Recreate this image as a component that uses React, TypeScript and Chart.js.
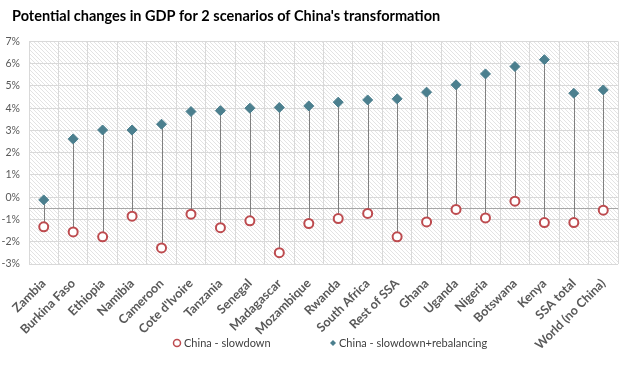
import React, { useEffect, useRef } from "react";
import { Chart, registerables } from "chart.js";

Chart.register(...registerables);

const titleText = "Potential changes in GDP for 2 scenarios of China's transformation";
const categories = [
  "Zambia", "Burkina Faso", "Ethiopia", "Namibia", "Cameroon", "Cote d'Ivoire",
  "Tanzania", "Senegal", "Madagascar", "Mozambique", "Rwanda", "South Africa",
  "Rest of SSA", "Ghana", "Uganda", "Nigeria", "Botswana", "Kenya", "SSA total",
  "World (no China)",
];
const seriesNames = ["China - slowdown", "China - slowdown+rebalancing"];
const slowdown = [
  -1.33, -1.56, -1.78, -0.85, -2.28, -0.76, -1.37, -1.06, -2.49, -1.18,
  -0.96, -0.73, -1.78, -1.11, -0.55, -0.93, -0.18, -1.14, -1.14, -0.58,
];
const rebalancing = [
  -0.12, 2.62, 3.02, 3.02, 3.28, 3.85, 3.89, 4.0, 4.03, 4.1,
  4.27, 4.37, 4.42, 4.72, 5.05, 5.54, 5.87, 6.18, 4.67, 4.82,
];
const yMin = -3;
const yMax = 7;
const axisCross = -0.5;

const RED = "#bd4b4f";
const TEAL = "#4b7f8e";
const FONT = "Lato, 'Open Sans', sans-serif";

function makePattern(): CanvasPattern | string {
  const c = document.createElement("canvas");
  c.width = 4;
  c.height = 4;
  const g = c.getContext("2d");
  if (!g) return "#f2f2f2";
  g.fillStyle = "#ffffff";
  g.fillRect(0, 0, 4, 4);
  g.strokeStyle = "#e3e3e3";
  g.lineWidth = 1;
  g.beginPath();
  g.moveTo(-1, -1);
  g.lineTo(5, 5);
  g.stroke();
  const p = g.createPattern(c, "repeat");
  return p || "#f2f2f2";
}

export default function App() {
  const ref = useRef<HTMLCanvasElement>(null);

  useEffect(() => {
    document.body.style.margin = "0";
    if (!ref.current) return;
    const pattern = makePattern();

    const hatch = {
      id: "hatch",
      afterLayout(chart: any) {
        if (chart.titleBlock) {
          chart.titleBlock.left = 12;
        }
      },
      beforeDraw(chart: any) {
        const { ctx, chartArea } = chart;
        ctx.save();
        ctx.fillStyle = pattern;
        ctx.fillRect(chartArea.left, chartArea.top, chartArea.right - chartArea.left, chartArea.bottom - chartArea.top);
        ctx.restore();
      },
    };

    const dropLines = {
      id: "dropLines",
      beforeDatasetsDraw(chart: any) {
        const { ctx, scales, chartArea } = chart;
        const x = scales.x;
        const y = scales.y;
        ctx.save();
        ctx.strokeStyle = "#a6a6a6";
        ctx.lineWidth = 1;
        const ya = Math.round(y.getPixelForValue(axisCross)) + 0.5;
        ctx.beginPath();
        ctx.moveTo(chartArea.left, ya);
        ctx.lineTo(chartArea.right, ya);
        ctx.stroke();
        ctx.strokeStyle = "#7f7f7f";
        categories.forEach((_, i) => {
          const px = Math.round(x.getPixelForValue(i)) + 0.5;
          ctx.beginPath();
          ctx.moveTo(px, y.getPixelForValue(slowdown[i]));
          ctx.lineTo(px, y.getPixelForValue(rebalancing[i]));
          ctx.stroke();
        });
        ctx.restore();
      },
    };

    const legendPlugin = {
      id: "customLegend",
      afterDraw(chart: any) {
        const { ctx } = chart;
        const ly = 343;
        ctx.save();
        ctx.font = `11px ${FONT}`;
        ctx.textBaseline = "middle";
        ctx.textAlign = "left";
        ctx.strokeStyle = RED;
        ctx.lineWidth = 1.5;
        ctx.beginPath();
        ctx.arc(177, ly, 3.5, 0, Math.PI * 2);
        ctx.stroke();
        ctx.fillStyle = "#404040";
        ctx.fillText(seriesNames[0], 184, ly);
        ctx.fillStyle = TEAL;
        ctx.beginPath();
        ctx.moveTo(333, ly - 3);
        ctx.lineTo(336, ly);
        ctx.lineTo(333, ly + 3);
        ctx.lineTo(330, ly);
        ctx.closePath();
        ctx.fill();
        ctx.fillStyle = "#404040";
        ctx.fillText(seriesNames[1], 339, ly);
        ctx.restore();
      },
    };

    const chart = new Chart(ref.current, {
      type: "line",
      data: {
        labels: categories,
        datasets: [
          {
            label: seriesNames[1],
            data: rebalancing,
            showLine: false,
            pointStyle: "rectRot",
            pointRadius: 5,
            pointBackgroundColor: TEAL,
            pointBorderColor: TEAL,
            pointBorderWidth: 1,
            borderColor: TEAL,
            backgroundColor: TEAL,
          },
          {
            label: seriesNames[0],
            data: slowdown,
            showLine: false,
            pointStyle: "circle",
            pointRadius: 4.5,
            pointBackgroundColor: "#ffffff",
            pointBorderColor: RED,
            pointBorderWidth: 2,
            borderColor: RED,
            backgroundColor: "#ffffff",
          },
        ],
      },
      options: {
        responsive: false,
        animation: false,
        layout: { padding: { left: 0, right: 22, top: 0, bottom: 0 } },
        plugins: {
          legend: { display: false },
          tooltip: { enabled: false },
          title: {
            display: true,
            text: titleText,
            align: "start",
            color: "#000000",
            font: { family: FONT, size: 14.5, weight: "bold" },
            padding: { top: 8, bottom: 16 },
          },
        },
        scales: {
          x: {
            type: "category",
            offset: true,
            grid: { display: true, offset: true, color: "#d9d9d9", drawTicks: false },
            border: { display: false },
            ticks: {
              autoSkip: false,
              maxRotation: 45,
              minRotation: 45,
              padding: 12,
              color: "#595959",
              font: { family: FONT, size: 12.5, weight: "bold" },
            },
            afterFit(scale: any) {
              scale.height = 111;
              scale.paddingLeft = 0;
              scale.paddingRight = 0;
            },
          },
          y: {
            min: yMin,
            max: yMax,
            grid: { color: "#d9d9d9", drawTicks: false },
            border: { display: false },
            ticks: {
              stepSize: 1,
              padding: 9,
              color: "#595959",
              font: { family: FONT, size: 10.5 },
              callback: (v: any) => `${v}%`,
            },
            afterFit(scale: any) {
              scale.width = 29;
            },
          },
        },
      },
      plugins: [hatch, dropLines, legendPlugin],
    } as any);

    return () => chart.destroy();
  }, []);

  return (
    <div style={{ width: 640, height: 375 }}>
      <canvas ref={ref} width={640} height={375} style={{ display: "block" }} />
    </div>
  );
}
